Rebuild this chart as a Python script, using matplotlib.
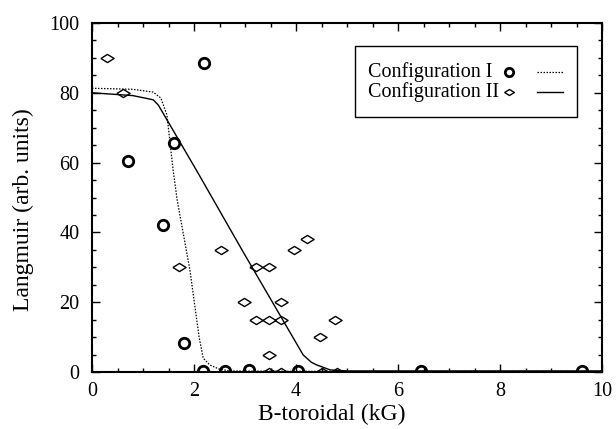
import numpy as np
import matplotlib
matplotlib.use("Agg")
import matplotlib.pyplot as plt
from matplotlib.patches import Rectangle

plt.rcParams['font.family'] = ['Liberation Serif', 'DejaVu Serif']

# Configuration I (circles)
b_conf1 = [0.7, 1.4, 1.6, 2.2, 1.8, 2.18, 2.6, 3.08, 4.04, 6.45, 9.6]
l_conf1 = [60.5, 42.2, 65.5, 88.5, 8.2, 0.3, 0.4, 0.5, 0.4, 0.4, 0.4]

# Configuration II (diamonds)
b_conf2 = [0.3, 0.6, 1.7, 2.53, 2.98, 3.22, 3.47, 3.22, 3.47, 3.71, 3.71,
           3.47, 3.96, 4.22, 4.47, 4.76, 3.47, 3.71, 4.5, 4.8]
l_conf2 = [90, 80, 30, 35, 20, 30, 30, 15, 15, 15, 20,
           5, 35, 38, 10, 15, 0, 0, 0, 0]

# fit curves
fit1_b = [0.0, 0.8, 1.2, 1.35, 1.47, 1.59, 1.67, 1.92, 2.1, 2.18, 2.31, 2.5, 2.7, 4.0, 10.0]
fit1_l = [81.3, 81.0, 80.2, 78.5, 73.6, 57.9, 49.3, 29.2, 10.0, 4.0, 2.0, 0.8, 0.3, 0.2, 0.2]
fit2_b = [0.0, 0.8, 1.2, 1.3, 2.06, 2.96, 4.14, 4.3, 4.41, 4.67, 5.0, 10.0]
fit2_l = [80.0, 79.2, 78.0, 76.5, 57.5, 34.5, 4.9, 2.8, 2.0, 0.6, 0.3, 0.3]

labels = ['Configuration I', 'Configuration II']

diamond = [(-1, 0), (0, 0.62), (1, 0), (0, -0.62), (-1, 0)]
circ_style = dict(ls='none', marker='o', mfc='none', mec='black', mew=2.0)
diam_style = dict(ls='none', marker=diamond, mfc='none', mec='black', mew=1.0)
dot_style = dict(color='black', lw=0.9, ls=(0, (1.2, 1.2)))
solid_style = dict(color='black', lw=1.0)

fig = plt.figure(figsize=(6.16, 4.29), dpi=100)
ax = fig.add_axes([92/616, 1-372/429, 510/616, 349/429])

ax.plot(fit1_b, fit1_l, **dot_style)
ax.plot(fit2_b, fit2_l, **solid_style)
ax.plot(b_conf1, l_conf1, ms=7.5, **circ_style)
ax.plot(b_conf2, l_conf2, ms=9.5, **diam_style)

ax.set_xlim(0, 10)
ax.set_ylim(0, 100)
ax.set_xticks([0, 2, 4, 6, 8, 10])
ax.set_yticks([0, 20, 40, 60, 80, 100])
ax.set_xticks(np.arange(0, 10.01, 0.5), minor=True)
ax.set_yticks(np.arange(0, 100.1, 5), minor=True)
ax.tick_params(which='both', direction='in', top=True, right=True, labelsize=14.5, width=1.0)
ax.tick_params(which='major', length=6)
ax.tick_params(which='minor', length=3)
ax.tick_params(axis='x', pad=7)
ax.tick_params(axis='y', pad=9)
for s in ax.spines.values():
    s.set_linewidth(1.5)

ax.set_xlabel('B-toroidal (kG)', fontsize=17)
ax.set_ylabel('Langmuir (arb. units)', fontsize=17)
ax.xaxis.set_label_coords(0.47, -0.092)
ax.yaxis.set_label_coords(-0.113, 0.464)

# legend drawn by hand: text left, marker, then line sample
ax.add_patch(Rectangle((0.516, 0.731), 0.435, 0.203, transform=ax.transAxes,
                       fill=True, fc='white', ec='black', lw=1.0, zorder=5))
row_y = [0.860, 0.802]
for lab, y, mk, ln in zip(labels, row_y, [(circ_style, 6), (diam_style, 7)],
                          [dot_style, solid_style]):
    ax.text(0.541, y, lab, transform=ax.transAxes, fontsize=14.5,
            va='center', ha='left', zorder=6)
    ax.plot([0.818], [y], transform=ax.transAxes, ms=mk[1], zorder=6, **mk[0])
    ax.plot([0.873, 0.924], [y, y], transform=ax.transAxes, zorder=6, **ln)

fig.savefig('out.png', dpi=100)
